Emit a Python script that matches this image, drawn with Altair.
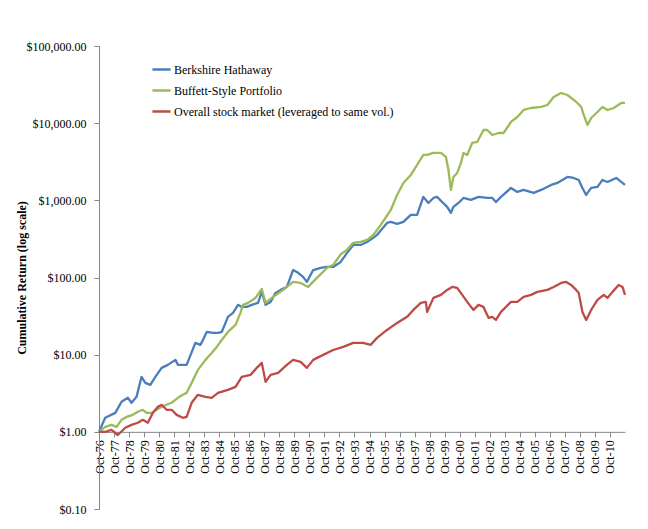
import altair as alt
import pandas as pd

series_names = ["Berkshire Hathaway", "Buffett-Style Portfolio",
                "Overall stock market (leveraged to same vol.)"]
series_colors = ["#4A7EBB", "#9BBB59", "#BE4B48"]

brk_dates = ["1976-10", "1977-03", "1977-11", "1978-04", "1978-09", "1978-12", "1979-04", "1979-08",
             "1979-11", "1980-03", "1980-07", "1980-12", "1981-05", "1981-11", "1982-01", "1982-05",
             "1982-08", "1983-03", "1983-07", "1983-09", "1983-12", "1984-05", "1984-09", "1984-12",
             "1985-05", "1985-09", "1986-01", "1986-04", "1986-08", "1986-12", "1987-05", "1987-08",
             "1987-11", "1988-03", "1988-07", "1988-11", "1989-04", "1989-09", "1990-01", "1990-05",
             "1990-08", "1991-01", "1991-07", "1991-12", "1992-05", "1992-11", "1993-04", "1993-09",
             "1994-03", "1994-08", "1995-01", "1995-04", "1995-12", "1996-03", "1996-08", "1997-01",
             "1997-07", "1997-12", "1998-05", "1998-09", "1999-01", "1999-04", "1999-08", "1999-12",
             "2000-03", "2000-05", "2000-09", "2001-01", "2001-07", "2002-01", "2002-08", "2002-12",
             "2003-03", "2003-07", "2004-03", "2004-08", "2005-01", "2005-09", "2006-03", "2006-11",
             "2007-04", "2007-12", "2008-05", "2008-09", "2008-12", "2009-03", "2009-07", "2009-12",
             "2010-04", "2010-08", "2011-03", "2011-07", "2011-10"]
brk_vals = [1.00, 1.52, 1.76, 2.45, 2.76, 2.38, 2.84, 5.16,
            4.31, 4.06, 5.16, 6.74, 7.38, 8.56, 7.38, 7.38,
            7.38, 14.2, 13.4, 15.5, 19.7, 19.2, 19.2, 19.7,
            30.9, 34.8, 44.2, 41.6, 41.6, 44.2, 46.9, 65.1,
            44.2, 48.3, 63.2, 69.1, 75.5, 125, 115, 102,
            87.7, 125, 133, 137, 137, 159, 208, 264,
            264, 289, 326, 356, 510, 525, 495, 525,
            647, 647, 1107, 925, 1074, 1107, 953, 822,
            687, 822, 925, 1074, 1012, 1107, 1074, 1074,
            953, 1107, 1448, 1285, 1364, 1247, 1364, 1583,
            1680, 2010, 1950, 1837, 1448, 1175, 1448, 1492,
            1837, 1731, 1950, 1731, 1583]

bsp_dates = ["1976-10", "1977-03", "1977-08", "1977-12", "1978-04", "1978-08", "1979-01", "1979-05",
             "1979-09", "1979-12", "1980-04", "1980-08", "1980-12", "1981-04", "1981-08", "1982-01",
             "1982-05", "1982-08", "1982-12", "1983-05", "1983-11", "1984-04", "1984-08", "1984-12",
             "1985-05", "1985-11", "1986-03", "1986-05", "1986-09", "1987-03", "1987-08", "1987-11",
             "1988-04", "1989-01", "1989-09", "1990-03", "1990-09", "1991-04", "1991-12", "1992-05",
             "1992-11", "1993-04", "1993-09", "1994-03", "1994-08", "1995-01", "1995-07", "1996-03",
             "1996-08", "1997-01", "1997-07", "1997-12", "1998-05", "1998-08", "1999-01", "1999-07",
             "1999-11", "2000-01", "2000-03", "2000-05", "2000-08", "2000-11", "2001-01", "2001-04",
             "2001-08", "2001-12", "2002-05", "2002-08", "2002-12", "2003-05", "2003-09", "2004-03",
             "2004-08", "2005-01", "2005-07", "2006-03", "2006-08", "2007-01", "2007-07", "2007-12",
             "2008-05", "2008-08", "2008-11", "2009-01", "2009-04", "2009-07", "2009-12", "2010-04",
             "2010-08", "2011-01", "2011-07", "2011-10"]
bsp_vals = [1.00, 1.16, 1.23, 1.16, 1.43, 1.56, 1.66, 1.82,
            1.93, 1.76, 1.76, 1.93, 2.11, 2.24, 2.38, 2.76,
            3.02, 3.20, 4.31, 6.35, 8.56, 10.5, 12.6, 15.5,
            19.7, 24.3, 34.8, 44.2, 46.9, 54.4, 71.0, 46.9,
            54.4, 69.1, 87.7, 85.1, 75.5, 98.8, 133, 146,
            200, 228, 281, 289, 307, 356, 480, 751,
            1175, 1680, 2133, 2875, 3872, 3872, 4110, 4110,
            3650, 2477, 1364, 2010, 2264, 3050, 4110, 3872,
            5540, 5710, 8160, 8160, 7030, 7460, 7460, 10370,
            12030, 14820, 15730, 16220, 17210, 21850, 24610, 23190,
            19990, 18270, 16220, 12770, 9480, 11680, 13960, 16220,
            14820, 15730, 18270, 18270]

mkt_dates = ["1976-10", "1977-03", "1977-08", "1978-01", "1978-07", "1978-12", "1979-05", "1979-09",
             "1980-01", "1980-05", "1980-09", "1980-12", "1981-04", "1981-08", "1981-12", "1982-05",
             "1982-08", "1982-12", "1983-05", "1983-11", "1984-04", "1984-09", "1985-05", "1985-11",
             "1986-04", "1986-11", "1987-04", "1987-08", "1987-11", "1988-03", "1988-09", "1989-04",
             "1989-09", "1990-03", "1990-08", "1991-01", "1991-09", "1992-05", "1993-01", "1993-09",
             "1994-05", "1994-11", "1995-04", "1995-12", "1996-08", "1997-04", "1997-09", "1998-03",
             "1998-07", "1998-08", "1999-01", "1999-07", "1999-12", "2000-04", "2000-08", "2000-12",
             "2001-04", "2001-09", "2002-01", "2002-05", "2002-09", "2002-12", "2003-03", "2003-07",
             "2004-03", "2004-08", "2005-01", "2005-07", "2005-12", "2006-08", "2007-01", "2007-07",
             "2007-11", "2008-03", "2008-07", "2008-09", "2008-12", "2009-03", "2009-07", "2009-12",
             "2010-05", "2010-08", "2010-12", "2011-05", "2011-08", "2011-10"]
mkt_vals = [1.00, 1.00, 1.06, 0.91, 1.13, 1.23, 1.31, 1.43,
            1.31, 1.76, 2.11, 2.24, 1.93, 1.93, 1.66, 1.52,
            1.56, 2.38, 3.02, 2.84, 2.76, 3.20, 3.50, 3.83,
            5.16, 5.47, 6.74, 7.83, 4.44, 5.47, 5.81, 7.38,
            8.56, 8.07, 6.74, 8.56, 9.94, 11.5, 12.6, 14.2,
            14.2, 13.4, 16.5, 20.9, 25.8, 30.9, 38.0, 46.9,
            48.3, 35.8, 54.4, 59.5, 69.1, 75.5, 73.3, 59.5,
            48.3, 38.0, 44.2, 41.6, 30.0, 30.9, 28.2, 35.8,
            48.3, 48.3, 56.1, 59.5, 65.1, 69.1, 75.5, 85.1,
            87.7, 80.2, 69.1, 63.2, 35.8, 28.2, 38.0, 51.3,
            59.5, 54.4, 65.1, 80.2, 75.5, 59.5]

y_ticks = [0.1, 1, 10, 100, 1000, 10000, 100000]
x_tick_years = list(range(1976, 2011))

frames = []
for name, d, v in [(series_names[0], brk_dates, brk_vals),
                   (series_names[1], bsp_dates, bsp_vals),
                   (series_names[2], mkt_dates, mkt_vals)]:
    frames.append(pd.DataFrame({"date": [s + "-01" for s in d], "value": v, "series": name}))
df = pd.concat(frames, ignore_index=True)

serif = "Liberation Serif"
axis_gray = "#868686"
H = 463
W = 526

x_values = [alt.DateTime(year=y, month=10, date=1, utc=True) for y in x_tick_years]

chart = alt.Chart(df).mark_line(strokeWidth=2.3, strokeJoin="round").encode(
    x=alt.X("date:T",
            title="",
            scale=alt.Scale(type="utc",
                            domain=[alt.DateTime(year=1976, month=10, date=1, utc=True),
                                    alt.DateTime(year=2011, month=10, date=1, utc=True)]),
            axis=alt.Axis(values=x_values, labelExpr="utcFormat(datum.value, '%b-%y')",
                          labelAngle=-90, labelFont=serif, labelFontSize=12,
                          labelColor="black", labelPadding=3, grid=False,
                          domainColor=axis_gray, tickColor=axis_gray, tickSize=5,
                          labelOverlap=False, offset=-H / 6)),
    y=alt.Y("value:Q",
            scale=alt.Scale(type="log", domain=[0.1, 100000], nice=False),
            axis=alt.Axis(values=y_ticks, format="$,.2f", labelFont=serif,
                          labelFontSize=12, labelColor="black", labelPadding=8,
                          grid=False, domainColor=axis_gray, tickColor=axis_gray,
                          tickSize=5, title="Cumulative Return  (log scale)",
                          titleFont=serif, titleFontSize=12, titleFontWeight="bold",
                          titleColor="black", titleX=-71, titleY=H / 2)),
    color=alt.Color("series:N",
                    scale=alt.Scale(domain=series_names, range=series_colors),
                    legend=alt.Legend(title=None, orient="none", legendX=52, legendY=13,
                                      symbolType="stroke", symbolStrokeWidth=2.5,
                                      symbolSize=330, labelFont=serif, labelFontSize=12,
                                      labelColor="black", labelOffset=2, rowPadding=4,
                                      padding=0, labelLimit=400)),
).properties(
    width=W, height=H,
    autosize=alt.AutoSizeParams(type="none"),
    padding={"left": 91, "top": 38, "right": 10, "bottom": 10},
).configure_view(stroke="transparent")

chart.save("out.html", embed_options={"renderer": "svg", "actions": False})
